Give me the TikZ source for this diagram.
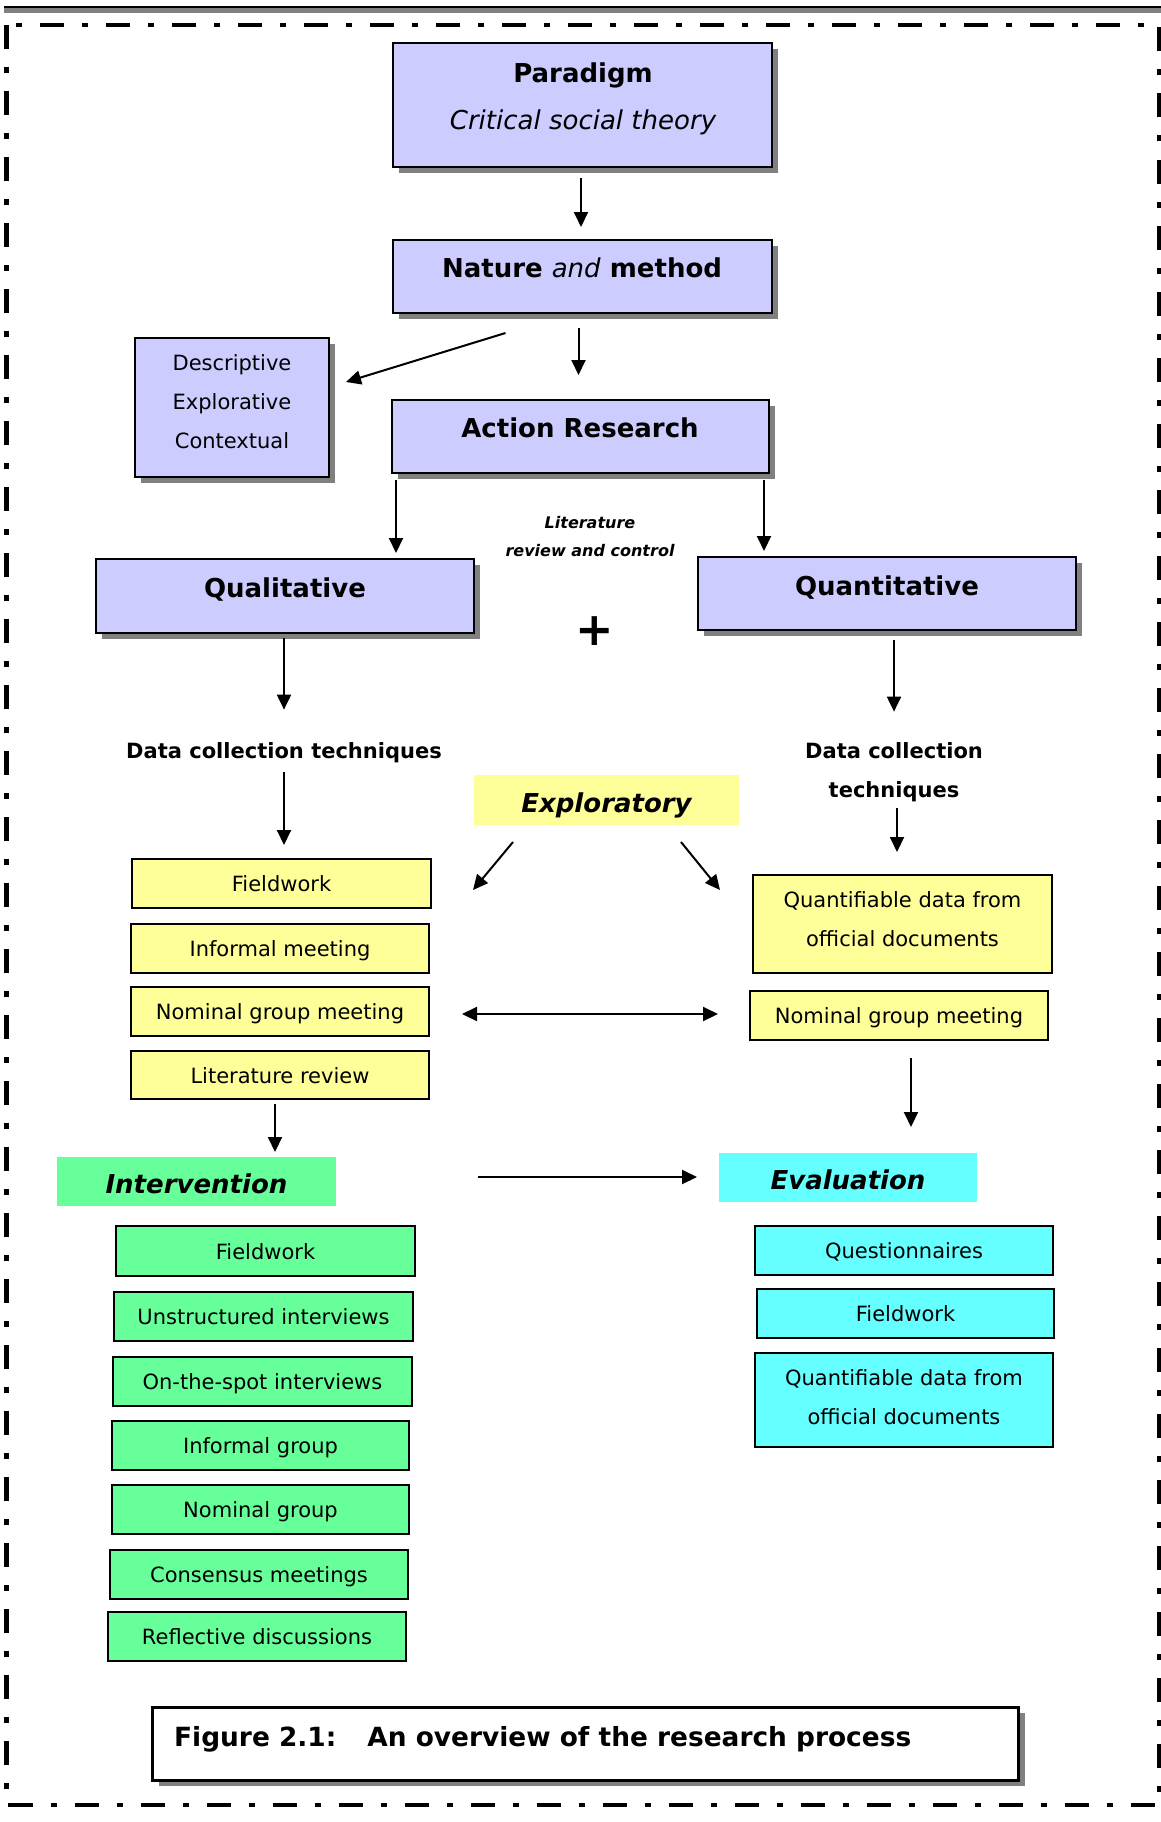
\documentclass[tikz,border=0pt]{standalone}
\usepackage{fontspec}
\setmainfont{DejaVu Sans}
\usetikzlibrary{shadows,calc,arrows.meta}
\definecolor{lavender}{HTML}{CCCCFF}
\definecolor{paleyellow}{HTML}{FFFF99}
\definecolor{mintgreen}{HTML}{66FF99}
\definecolor{lightaqua}{HTML}{66FFFF}
\definecolor{shadowgray}{HTML}{808080}
\begin{document}
\begin{tikzpicture}[x=1pt,y=-1pt,
  dims/.style 2 args={minimum width=#1pt,minimum height=#2pt},
  panel/.style={anchor=north west,inner sep=0pt,outer sep=0pt},
  shadowed/.style={drop shadow={shadow xshift=6pt,shadow yshift=-6pt,opacity=1,fill=shadowgray}},
  bluebox/.style={panel,draw=black,line width=2.6pt,fill=lavender,shadowed},
  itembox/.style={panel,draw=black,line width=2pt,align=center,
    text height=16pt,text depth=0pt,font=\fontsize{21}{39}\selectfont},
  ybox/.style={itembox,fill=paleyellow},
  gbox/.style={itembox,fill=mintgreen},
  cbox/.style={itembox,fill=lightaqua},
  band/.style={panel,text height=24pt,text depth=0pt,
    font=\fontsize{26}{31}\selectfont\bfseries\itshape},
  headtxt/.style={inner sep=0pt,font=\fontsize{26}{31}\selectfont\bfseries},
  plaintxt/.style={inner sep=0pt,align=center,font=\fontsize{21}{39}\selectfont},
  labeltxt/.style={inner sep=0pt,align=center,font=\fontsize{21}{39}\selectfont\bfseries},
  arr/.style={line width=2pt,-{Triangle[length=15pt,width=14pt]}},
  dblarr/.style={line width=2pt,{Triangle[length=15pt,width=14pt]}-{Triangle[length=15pt,width=14pt]}}]

\useasboundingbox (0,0) rectangle (1161,1822);

% page rules and dash-dot frame
\fill[black] (4,6) rectangle (1161,8.5);
\fill[shadowgray] (4,8.5) rectangle (1161,13);
\draw[line width=4.5pt,dash pattern=on 24pt off 18pt on 6pt off 18pt]
  (6.5,25) rectangle (1159,1805);

% upper chain
\node[bluebox,dims={379}{124}] (par) at (393,43) {};
\node[headtxt] (partitle) at (583,75) {Paradigm};
\node[inner sep=0pt,font=\fontsize{26}{31}\selectfont\itshape] (parsub) at (583,122) {Critical social theory};

\node[bluebox,dims={379}{73}] (nat) at (393,240) {};
\node[headtxt] (nattxt) at (582,268) {Nature \textit{\mdseries and} method};

\node[bluebox,dims={194}{139}] (desc) at (135,338) {};
\node[plaintxt] (desctxt) at (232,402) {Descriptive\\Explorative\\Contextual};

\node[bluebox,dims={377}{73}] (act) at (392,400) {};
\node[headtxt] (acttxt) at (580,428) {Action Research};

\node[inner sep=0pt,align=center,font=\fontsize{16}{28}\selectfont\bfseries\itshape]
  (littxt) at (590,537) {Literature\\review and control};

\node[bluebox,dims={378}{74}] (qual) at (96,559) {};
\node[headtxt] (qualtxt) at (285,589.5) {Qualitative};

\node[bluebox,dims={378}{73}] (quant) at (698,557) {};
\node[headtxt] (quanttxt) at (887,587.5) {Quantitative};

\node[inner sep=0pt,font=\fontsize{46}{50}\selectfont\bfseries] (plus) at (595,631) {+};

% data collection
\node[labeltxt] (dctL) at (284,752.5) {Data collection techniques};
\node[labeltxt] (dctR) at (894,772) {Data collection\\techniques};

\node[band,fill=paleyellow,dims={265}{50}] (expl) at (474,775) {Exploratory};

\node[ybox,dims={299}{49}] (fw1) at (132,859) {Fieldwork};
\node[ybox,dims={298}{49}] (im) at (131,924) {Informal meeting};
\node[ybox,dims={298}{49}] (ngm1) at (131,987) {Nominal group meeting};
\node[ybox,dims={298}{48}] (lr) at (131,1051) {Literature review};

\node[ybox,dims={299}{98}] (qd1) at (753,875) {};
\node[plaintxt] (qd1txt) at ($(qd1.center)+(0,-4.5)$) {Quantifiable data from\\official documents};
\node[ybox,dims={298}{49}] (ngm2) at (750,991) {Nominal group meeting};

% intervention and evaluation
\node[band,fill=mintgreen,dims={279}{49}] (interv) at (57,1157) {Intervention};
\node[band,fill=lightaqua,dims={258}{49}] (eval) at (719,1153) {Evaluation};

\node[gbox,dims={299}{50}] (g1) at (116,1226) {Fieldwork};
\node[gbox,dims={299}{49}] (g2) at (114,1292) {Unstructured interviews};
\node[gbox,dims={299}{49}] (g3) at (113,1357) {On-the-spot interviews};
\node[gbox,dims={297}{49}] (g4) at (112,1421) {Informal group};
\node[gbox,dims={297}{49}] (g5) at (112,1485) {Nominal group};
\node[gbox,dims={298}{49}] (g6) at (110,1550) {Consensus meetings};
\node[gbox,dims={298}{49}] (g7) at (108,1612) {Reflective discussions};

\node[cbox,dims={298}{49}] (c1) at (755,1226) {Questionnaires};
\node[cbox,dims={297}{49}] (c2) at (757,1289) {Fieldwork};
\node[cbox,dims={298}{94}] (c3) at (755,1353) {};
\node[plaintxt] (c3txt) at ($(c3.center)+(0,-3)$) {Quantifiable data from\\official documents};

% caption
\node[panel,draw=black,line width=3pt,fill=white,dims={866}{73},
  drop shadow={shadow xshift=7pt,shadow yshift=-6pt,opacity=1,fill=shadowgray}] (cap) at (152,1707) {};
\node[anchor=west,inner sep=0pt,font=\fontsize{26.4}{31}\selectfont\bfseries] (captxt) at (174,1739.5)
  {Figure 2.1:\hspace{31pt}An overview of the research process};

% connectors
\draw[arr] ($(par.south)+(-1.5,11)$) -- ($(par.south |- nat.north)+(-1.5,-13)$);
\draw[arr] ($(nat.south)+(-77,20)$) -- ($(desc.east)+(17,-25.5)$);
\draw[arr] ($(nat.south)+(-4,15)$) -- ($(nat.south |- act.north)+(-4,-25)$);
\draw[arr] ($(act.south west)+(4,7)$) -- ($(act.south west |- qual.north)+(4,-6)$);
\draw[arr] ($(act.south east)+(-5,7)$) -- ($(act.south east |- quant.north)+(-5,-6)$);
\draw[arr] ($(qual.south)+(-1,5)$) -- ($(qual.south |- dctL.north)+(-1,-32.5)$);
\draw[arr] ($(quant.south)+(7,10)$) -- ($(quant.south |- dctR.north)+(7,-30.5)$);
\draw[arr] ($(dctL.south)+(0,9)$) -- ($(dctL.south |- fw1.north)+(0,-14)$);
\draw[arr] ($(dctR.south)+(3,6)$) -- ($(dctR.south |- qd1.north)+(3,-23)$);
\draw[arr] ($(expl.south)+(-93.5,17)$) -- ($(expl.south)+(-133.5,65)$);
\draw[arr] ($(expl.south)+(74.5,17)$) -- ($(expl.south)+(113.5,65)$);
\draw[dblarr] ($(ngm1.east)+(33,2.5)$) -- ($(ngm2.west)+(-32,-1.5)$);
\draw[arr] ($(lr.south)+(-5,5)$) -- ($(lr.south |- interv.north)+(-5,-5)$);
\draw[arr] ($(ngm2.south)+(12,18)$) -- ($(ngm2.south |- eval.north)+(12,-26)$);
\draw[arr] ($(interv.east)+(142,-4.5)$) -- ($(eval.west)+(-22,-0.5)$);
\end{tikzpicture}
\end{document}
